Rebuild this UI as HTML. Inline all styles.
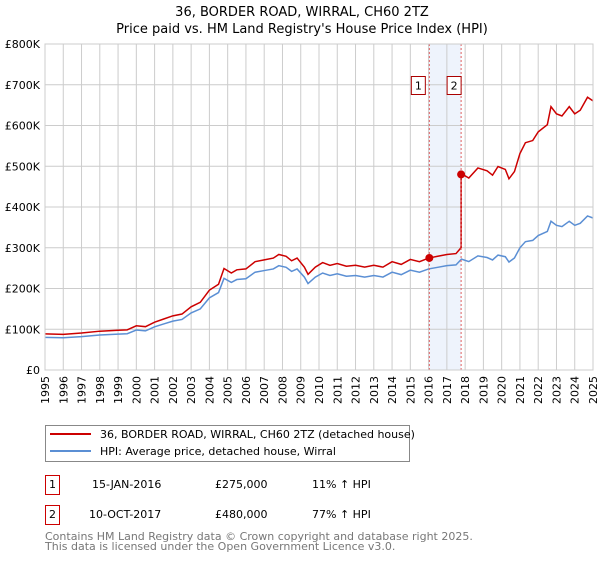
<!DOCTYPE html>
<html><head><meta charset="utf-8"><style>
body{margin:0;background:#fff;font-family:"DejaVu Sans","Liberation Sans",sans-serif}
svg text{font-family:"DejaVu Sans","Liberation Sans",sans-serif}
</style></head><body>
<svg id="c" width="600" height="560" xmlns="http://www.w3.org/2000/svg">
<text x="302" y="16" font-size="13" text-anchor="middle">36, BORDER ROAD, WIRRAL, CH60 2TZ</text>
<text x="302" y="33" font-size="13" text-anchor="middle">Price paid vs. HM Land Registry's House Price Index (HPI)</text>
<g id="grid"></g><g id="marks"></g><g id="axes"></g>
<g>
<rect x="45.5" y="425.5" width="364" height="36" fill="#fff" stroke="#888"/>
<line x1="50" y1="434" x2="91" y2="434" stroke="#cc0000" stroke-width="2"/>
<text x="100" y="438" font-size="11">36, BORDER ROAD, WIRRAL, CH60 2TZ (detached house)</text>
<line x1="50" y1="451" x2="91" y2="451" stroke="#5b8fd4" stroke-width="2"/>
<text x="100" y="455" font-size="11">HPI: Average price, detached house, Wirral</text>
</g>
<g font-size="11">
<rect x="45.5" y="475.5" width="14" height="19" fill="#fff" stroke="#cc0000"/>
<text x="52.5" y="488" text-anchor="middle">1</text>
<text x="92" y="488">15-JAN-2016</text>
<text x="215" y="488">£275,000</text>
<text x="312" y="488">11% ↑ HPI</text>
<rect x="45.5" y="505.5" width="14" height="19" fill="#fff" stroke="#cc0000"/>
<text x="52.5" y="518" text-anchor="middle">2</text>
<text x="89" y="518">10-OCT-2017</text>
<text x="215" y="518">£480,000</text>
<text x="312" y="518">77% ↑ HPI</text>
</g>
<text x="45" y="540" font-size="11" fill="#777">Contains HM Land Registry data © Crown copyright and database right 2025.</text>
<text x="45" y="550" font-size="11" fill="#777">This data is licensed under the Open Government Licence v3.0.</text>
</svg>
<script>
const hpiYears=[1995,1996,1997,1998,1999,1999.5,2000,2000.5,2001,2001.5,2002,2002.5,2003,2003.5,2004,2004.5,2004.8,2005.2,2005.5,2006,2006.5,2007,2007.5,2007.8,2008.2,2008.5,2008.8,2009.2,2009.4,2009.8,2010.2,2010.6,2011,2011.5,2012,2012.5,2013,2013.5,2014,2014.5,2015,2015.5,2016,2016.5,2017,2017.5,2017.8,2018.2,2018.7,2019.2,2019.5,2019.8,2020.2,2020.4,2020.7,2021,2021.3,2021.7,2022,2022.5,2022.7,2023,2023.3,2023.7,2024,2024.3,2024.7,2025];
const hpiValues=[80,79,82,86,88,89,98,96,106,113,120,124,140,150,177,190,225,215,222,224,240,244,248,256,252,242,248,228,212,228,238,232,236,230,232,228,232,228,240,234,245,240,248,252,256,258,272,266,280,276,270,282,278,265,275,300,315,318,330,340,365,355,352,365,355,360,378,373];
const saleYears=[2016.04,2017.78];
const salePrices=[275,480];
const yTicks=[0,100,200,300,400,500,600,700,800];
const yTickLabels=["£0","£100K","£200K","£300K","£400K","£500K","£600K","£700K","£800K"];
const xTicks=[1995,1996,1997,1998,1999,2000,2001,2002,2003,2004,2005,2006,2007,2008,2009,2010,2011,2012,2013,2014,2015,2016,2017,2018,2019,2020,2021,2022,2023,2024,2025];

const X0=45,X1=593,Y0=370,Y1=44;
const xs=v=>X0+(v-1995)/30*(X1-X0);
const ys=v=>Y0-v/800*(Y0-Y1);
const NS="http://www.w3.org/2000/svg";
function mk(t,a,p){const e=document.createElementNS(NS,t);for(const k in a)e.setAttribute(k,a[k]);p.appendChild(e);return e;}
const grid=document.getElementById('grid'),marks=document.getElementById('marks'),axes=document.getElementById('axes');

const band=mk('rect',{x:xs(saleYears[0]),y:Y1,width:xs(saleYears[1])-xs(saleYears[0]),height:Y0-Y1,fill:'#eef3fc'},grid);



yTicks.forEach((t,i)=>{
 const l=mk('line',{x1:X0,x2:X1,y1:ys(t),y2:ys(t),stroke:'#ccc'},grid);
 
 
 const tx=mk('text',{x:X0-5,y:ys(t)+4,'font-size':11,'text-anchor':'end'},axes);
 tx.textContent=yTickLabels[i];
 
 
});
xTicks.forEach(t=>{
 const l=mk('line',{x1:xs(t),x2:xs(t),y1:Y1,y2:Y0,stroke:'#ccc'},grid);
 
 
 const tx=mk('text',{x:0,y:0,'font-size':11,'text-anchor':'end',transform:`translate(${xs(t)+4},${Y0+6}) rotate(-90)`},axes);
 tx.textContent=t;
 
 
});
const fr=mk('rect',{x:X0,y:Y1,width:X1-X0,height:Y0-Y1,fill:'none',stroke:'#ccc'},axes);



function interp(y){for(let i=1;i<hpiYears.length;i++){if(y<=hpiYears[i]){const f=(y-hpiYears[i-1])/(hpiYears[i]-hpiYears[i-1]);return hpiValues[i-1]+f*(hpiValues[i]-hpiValues[i-1]);}}return hpiValues[hpiValues.length-1];}

const h0=interp(saleYears[0]),h1=interp(saleYears[1]);
let redPts=[];
hpiYears.forEach((y,i)=>{
 if(y<saleYears[1]){ if(y>saleYears[0]&&redPts.length&&hpiYears[i-1]<saleYears[0])redPts.push([saleYears[0],salePrices[0]]);
  redPts.push([y,hpiValues[i]*salePrices[0]/h0]); }
});
redPts.push([saleYears[1],salePrices[0]*h1/h0]);
redPts.push([saleYears[1],salePrices[1]]);
hpiYears.forEach((y,i)=>{if(y>saleYears[1])redPts.push([y,hpiValues[i]*salePrices[1]/h1]);});

const blue=mk('polyline',{points:hpiYears.map((y,i)=>xs(y)+','+ys(hpiValues[i])).join(' '),fill:'none',stroke:'#5b8fd4','stroke-width':1.5},marks);


const red=mk('polyline',{points:redPts.map(p=>xs(p[0])+','+ys(p[1])).join(' '),fill:'none',stroke:'#cc0000','stroke-width':1.5},marks);



saleYears.forEach((y,i)=>{
 const l=mk('line',{x1:xs(y),x2:xs(y),y1:Y1,y2:Y0,stroke:'#e06060','stroke-dasharray':'2,2'},marks);
 
 
 const c=mk('circle',{cx:xs(y),cy:ys(salePrices[i]),r:4,fill:'#cc0000'},marks);
 
 
 const b=mk('rect',{x:xs(y)-18+(i?4:0),y:76.5,width:14,height:18,fill:'#fff',stroke:'#aa0000'},marks);
 
 
 const t=mk('text',{x:xs(y)-11+(i?4:0),y:89.5,'font-size':11,'text-anchor':'middle'},marks);
 t.textContent=String(i+1);
 
 
});
</script>
</body></html>
